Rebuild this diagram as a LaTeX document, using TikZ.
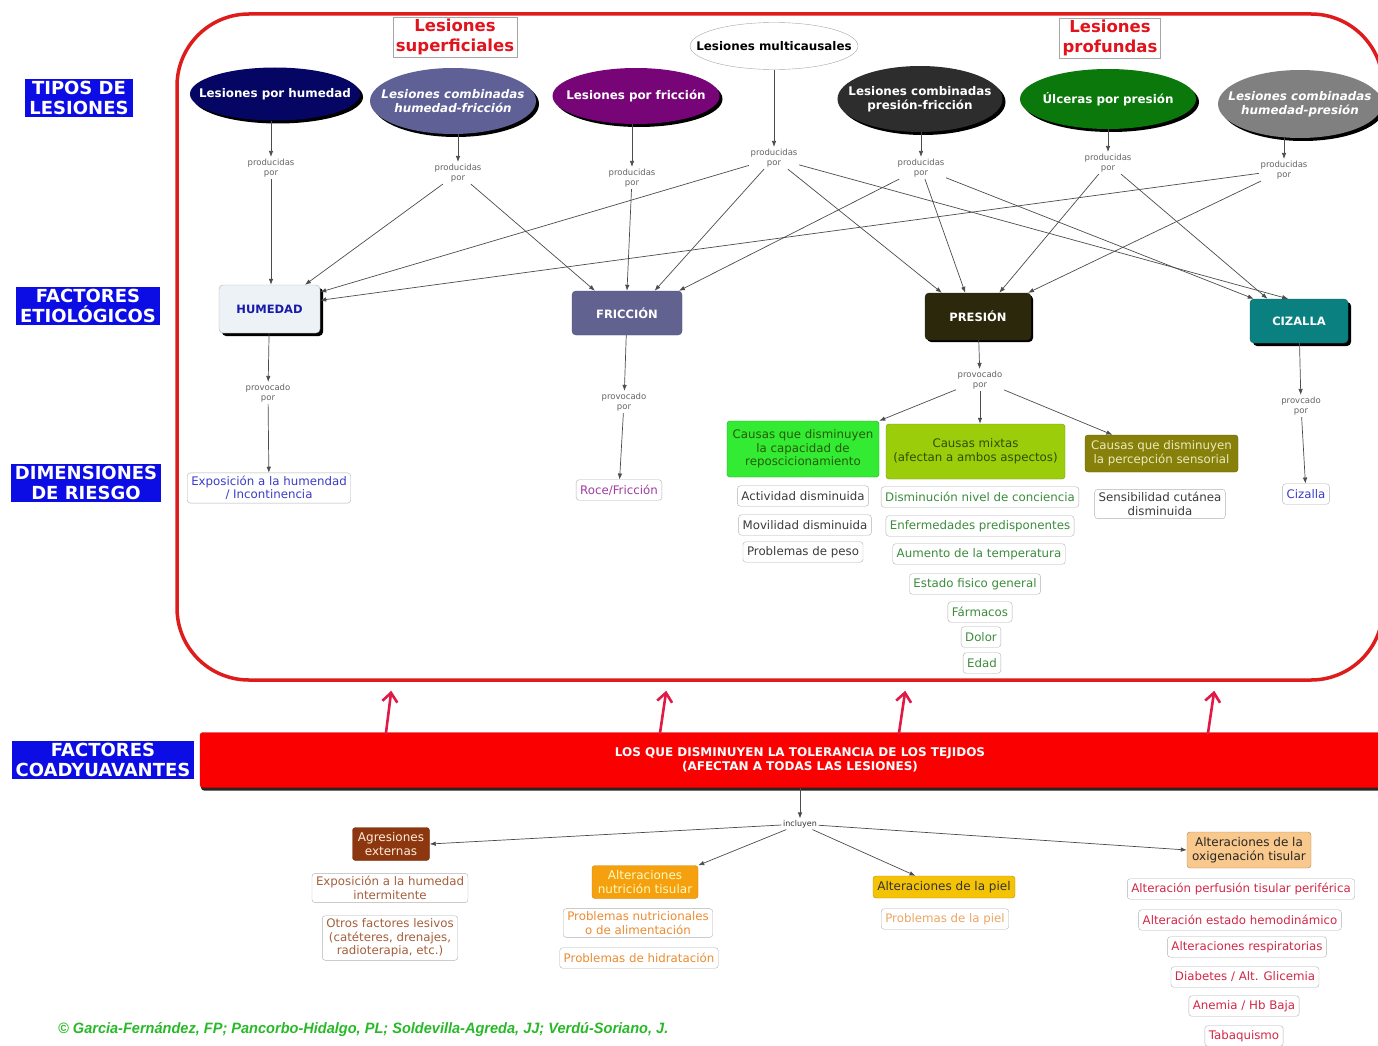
\documentclass[tikz,border=0pt]{standalone}
\usepackage{fontspec}
\usepackage{graphicx}
\setmainfont{DejaVu Sans}
\newfontfamily\footfont{Liberation Sans}
\usetikzlibrary{shapes.geometric,arrows.meta,shadows,calc}

\newcommand\fsz[2]{\fontsize{#1}{#2}\selectfont}

\definecolor{sideblue}{RGB}{12,12,228}
\definecolor{headred}{RGB}{225,20,30}
\definecolor{framered}{RGB}{222,28,28}
\definecolor{navyfill}{RGB}{5,5,100}
\definecolor{slatefill}{RGB}{95,96,150}
\definecolor{purpfill}{RGB}{120,5,120}
\definecolor{darkfill}{RGB}{45,45,45}
\definecolor{ulcgreen}{RGB}{10,120,10}
\definecolor{midgray}{RGB}{128,128,128}
\definecolor{humfill}{RGB}{236,242,246}
\definecolor{humtext}{RGB}{25,25,170}
\definecolor{fricfill}{RGB}{98,98,145}
\definecolor{presfill}{RGB}{43,40,12}
\definecolor{cizfill}{RGB}{10,128,128}
\definecolor{cafill}{RGB}{50,235,50}
\definecolor{catext}{RGB}{40,90,10}
\definecolor{cbfill}{RGB}{155,205,10}
\definecolor{cbtext}{RGB}{45,80,0}
\definecolor{ccfill}{RGB}{135,128,10}
\definecolor{cctext}{RGB}{235,235,190}
\definecolor{bluetext}{RGB}{60,60,200}
\definecolor{purptext}{RGB}{160,60,160}
\definecolor{greytext}{RGB}{60,60,60}
\definecolor{greentext}{RGB}{60,140,60}
\definecolor{barred}{RGB}{250,0,0}
\definecolor{arrred}{RGB}{225,25,70}
\definecolor{brownfill}{RGB}{140,55,15}
\definecolor{browntext}{RGB}{165,95,60}
\definecolor{orangefill}{RGB}{245,160,15}
\definecolor{orangetext}{RGB}{235,140,50}
\definecolor{goldfill}{RGB}{245,195,5}
\definecolor{peachfill}{RGB}{248,200,140}
\definecolor{pieltext}{RGB}{235,165,100}
\definecolor{oxtext}{RGB}{210,40,70}
\definecolor{footgreen}{RGB}{40,185,40}
\definecolor{labgray}{RGB}{100,100,100}

\begin{document}
\begin{tikzpicture}[x=1pt,y=-1pt,
  side/.style={fill=sideblue, text=white, font=\fsz{18}{19.5}\bfseries, align=center, inner xsep=4pt, inner ysep=2.5pt},
  headbox/.style={draw=gray!70, fill=white, text=headred, font=\fsz{16.5}{19.5}\bfseries, align=center, inner xsep=3pt, inner ysep=2pt},
  ellbase/.style={ellipse, inner sep=0pt, drop shadow={shadow xshift=3pt, shadow yshift=-3pt, opacity=1, fill=black}},
  elltext/.style={text=white, font=\fsz{11.9}{13.8}\bfseries, align=center, inner sep=0pt},
  factor/.style={rounded corners=4pt, font=\fsz{11.5}{13}\bfseries, text=white, inner sep=0pt},
  boxshadow/.style={drop shadow={shadow xshift=3pt, shadow yshift=-3pt, opacity=1, fill=black}},
  lab/.style={text=labgray, font=\fsz{8.5}{10.5}, align=center, inner sep=1.5pt},
  arr/.style={draw=black!70, line width=0.7pt, -{Latex[length=6pt,width=4.5pt]}},
  item/.style={draw=gray!60, fill=white, rounded corners=3pt, font=\fsz{11.8}{13.6}, align=center, inner xsep=4pt, inner ysep=3pt, minimum height=20.5pt},
  causa/.style={rounded corners=3pt, font=\fsz{11.8}{13.6}, align=center, inner sep=2pt},
  cobox/.style={rounded corners=3pt, font=\fsz{12}{14}, align=center, inner xsep=3pt, inner ysep=2pt},
  redarr/.style={draw=arrred, line width=2.6pt, -{Straight Barb[length=9pt,width=15pt,line width=2.6pt]}}
]
\useasboundingbox (0,0) rectangle (1378,1046);
\fill[white] (0,0) rectangle (1378,1046);
\clip (0,0) rectangle (1378,1046);

% ---- frame around the lesion types and their causes
\node[draw=framered, line width=3.5pt, rounded corners=72pt, minimum width=1206pt, minimum height=666pt, inner sep=0pt] (frame) at (780,347) {};

% ---- row titles
\node[side] (t1) at (79,98) {TIPOS DE\\LESIONES};
\node[side] (t2) at (88,306) {FACTORES\\ETIOLÓGICOS};
\node[side] (t3) at (86,483) {DIMENSIONES\\DE RIESGO};
\node[side] (t4) at (103,760) {FACTORES\\COADYUAVANTES};

% ---- group headers
\node[headbox] (hs) at (455,37) {Lesiones\\superficiales};
\node[headbox] (hp) at (1110,38) {Lesiones\\profundas};

% ---- lesion types
\node[ellbase, fill=navyfill, minimum width=170pt, minimum height=53pt] (e1) at (275,94) {};
\node[elltext] (e1t) at (e1) {Lesiones por humedad};
\node[ellbase, fill=slatefill, minimum width=166pt, minimum height=66pt] (e2) at (453,101) {};
\node[elltext, font=\fsz{11.9}{13.8}\bfseries\itshape] (e2t) at (e2) {Lesiones combinadas\\humedad-fricción};
\node[ellbase, fill=purpfill, minimum width=167pt, minimum height=56pt] (e3) at (636,96) {};
\node[elltext] (e3t) at (e3) {Lesiones por fricción};
\node[ellipse, draw=gray!70, fill=white, inner sep=0pt, minimum width=168pt, minimum height=47pt] (e4) at (774,46) {};
\node[elltext, text=black] (e4t) at (e4) {Lesiones multicausales};
\node[ellbase, fill=darkfill, minimum width=165pt, minimum height=66pt] (e5) at (920,99) {};
\node[elltext] (e5t) at (e5) {Lesiones combinadas\\presión-fricción};
\node[ellbase, fill=ulcgreen, minimum width=176pt, minimum height=60pt] (e6) at (1108,99) {};
\node[elltext] (e6t) at (e6) {Úlceras por presión};
\node[ellbase, fill=midgray, minimum width=164pt, minimum height=68pt] (e7) at (1300,104) {};
\node[elltext, font=\fsz{11.9}{13.8}\bfseries\itshape] (e7t) at (e7) {Lesiones combinadas\\humedad-presión};

% ---- linking phrases
\node[lab] (p1) at (271,168) {producidas\\por};
\node[lab] (p2) at (458,173) {producidas\\por};
\node[lab] (p3) at (632,178) {producidas\\por};
\node[lab] (p4) at (774,158) {producidas\\por};
\node[lab] (p5) at (921,168) {producidas\\por};
\node[lab] (p6) at (1108,163) {producidas\\por};
\node[lab] (p7) at (1284,170) {producidas\\por};

\foreach \i in {1,...,7}{
  \draw[arr] (e\i.south -| p\i.north) -- (p\i.north);
}

% ---- etiological factors
\node[factor, fill=humfill, draw=gray!60, text=humtext, minimum width=101pt, minimum height=48pt, boxshadow] (humedad) at (269.5,309) {HUMEDAD};
\node[factor, fill=fricfill, draw=fricfill!80!black, minimum width=110pt, minimum height=44pt] (friccion) at (627,313) {FRICCIÓN};
\node[factor, fill=presfill, draw=presfill, minimum width=106pt, minimum height=47pt, drop shadow={shadow xshift=2pt, shadow yshift=-2pt, opacity=1, fill=black}] (presion) at (978,316.5) {PRESIÓN};
\node[factor, fill=cizfill, draw=cizfill!80!black, minimum width=98pt, minimum height=44pt, boxshadow] (cizalla) at (1299,321) {CIZALLA};

\draw[arr] (p1) -- (humedad.north -| p1);
\draw[arr] (p2) -- ($(humedad.north west)!0.85!(humedad.north east)$);
\draw[arr] (p2) -- ($(friccion.north west)!0.21!(friccion.north east)$);
\draw[arr] (p3) -- ($(friccion.north west)!0.5!(friccion.north east)$);
\draw[arr] (p4) -- ($(humedad.north east)!0.15!(humedad.south east)$);
\draw[arr] (p4) -- ($(friccion.north west)!0.75!(friccion.north east)$);
\draw[arr] (p4) -- ($(presion.north west)!0.16!(presion.north east)$);
\draw[arr] (p4) -- ($(cizalla.north west)!0.39!(cizalla.north east)$);
\draw[arr] (p5) -- ($(friccion.north west)!0.97!(friccion.north east)$);
\draw[arr] (p5) -- ($(presion.north west)!0.38!(presion.north east)$);
\draw[arr] (p5) -- ($(cizalla.north west)!0.04!(cizalla.north east)$);
\draw[arr] (p6) -- ($(presion.north west)!0.70!(presion.north east)$);
\draw[arr] (p6) -- ($(cizalla.north west)!0.18!(cizalla.north east)$);
\draw[arr] (p7) -- ($(humedad.north east)!0.32!(humedad.south east)$);
\draw[arr] (p7) -- ($(presion.north west)!0.97!(presion.north east)$);

% ---- risk dimensions
\node[lab] (q1) at (268,393) {provocado\\por};
\node[lab] (q2) at (624,402) {provocado\\por};
\node[lab] (q3) at (980,380) {provocado\\por};
\node[lab] (q4) at (1301,406) {provcado\\por};

\node[item, text=bluetext] (expo) at (269,488) {Exposición a la humendad\\/ Incontinencia};
\node[item, text=purptext] (roce) at (619,490) {Roce/Fricción};
\node[item, text=bluetext] (ciz) at (1306,494) {Cizalla};

\node[causa, fill=cafill, draw=cafill!70!black, text=catext, minimum width=152pt, minimum height=56pt] (c1) at (803,449) {Causas que disminuyen\\la capacidad de\\reposcicionamiento};
\node[causa, fill=cbfill, draw=cbfill!75!black, text=cbtext, minimum width=179pt, minimum height=55pt] (c2) at (975.5,451.5) {Causas mixtas\\(afectan a ambos aspectos)};
\node[causa, fill=ccfill, draw=ccfill!75!black, text=cctext, minimum width=153pt, minimum height=37pt] (c3) at (1161.5,453.5) {Causas que disminuyen\\la percepción sensorial};

\draw[arr] (humedad) -- (q1);
\draw[arr] (q1) -- (expo);
\draw[arr] (friccion) -- (q2);
\draw[arr] (q2) -- (roce);
\draw[arr] (presion) -- (q3);
\draw[arr] (q3) -- (c1.north east);
\draw[arr] (q3) -- (c2.north -| q3);
\draw[arr] (q3) -- ($(c3.north west)!0.18!(c3.north east)$);
\draw[arr] (cizalla) -- (q4);
\draw[arr] (q4) -- (ciz);

\node[item, text=greytext] (a1) at (803,496) {Actividad disminuida};
\node[item, text=greytext] (a2) at (805,525) {Movilidad disminuida};
\node[item, text=greytext] (a3) at (803,552) {Problemas de peso};

\node[item, text=greentext] (m1) at (980,497) {Disminución nivel de conciencia};
\node[item, text=greentext] (m2) at (980,526) {Enfermedades predisponentes};
\node[item, text=greentext] (m3) at (979,554) {Aumento de la temperatura};
\node[item, text=greentext] (m4) at (975,584) {Estado fisico general};
\node[item, text=greentext] (m5) at (980,612) {Fármacos};
\node[item, text=greentext] (m6) at (981,637) {Dolor};
\node[item, text=greentext] (m7) at (982,663) {Edad};

\node[item, text=greytext] (s1) at (1160,504) {Sensibilidad cutánea\\disminuida};

% ---- contributing factors
\node[fill=barred, draw=barred!80!black, rounded corners=3pt, minimum width=1200pt, minimum height=55pt, text=white, font=\fsz{12}{14}\bfseries, align=center, drop shadow={shadow xshift=1pt, shadow yshift=-3pt, opacity=1, fill=black!85}] (bar) at (800,760) {LOS QUE DISMINUYEN LA TOLERANCIA DE LOS TEJIDOS\\(AFECTAN A TODAS LAS LESIONES)};

\draw[redarr] ($(bar.north west)+(186,2)$) -- ($(frame.south west)+(216,9)$);
\draw[redarr] ($(bar.north west)+(460,2)$) -- ($(frame.south west)+(491,9)$);
\draw[redarr] ($(bar.north west)+(699,2)$) -- ($(frame.south west)+(730,9)$);
\draw[redarr] ($(bar.north west)+(1008,2)$) -- ($(frame.south west)+(1039,9)$);

\node[font=\fsz{8}{10}, text=black!80, inner sep=1.5pt] (inc) at (800,824) {incluyen};
\draw[arr] (bar.south -| inc) -- (inc);

\node[cobox, fill=brownfill, draw=brownfill!80!black, text=orange!15, minimum width=77pt, minimum height=33pt] (agr) at (391,844) {Agresiones\\externas};
\node[cobox, fill=orangefill, draw=orangefill!85!black, text=yellow!25, minimum width=106pt, minimum height=33pt] (nut) at (645,882) {Alteraciones\\nutrición tisular};
\node[cobox, fill=goldfill, draw=goldfill!75!black, text=black!80, minimum width=142pt, minimum height=22pt] (piel) at (944,887) {Alteraciones de la piel};
\node[cobox, fill=peachfill, draw=peachfill!70!black, text=black!85, minimum width=124pt, minimum height=36pt] (oxi) at (1249,850) {Alteraciones de la\\oxigenación tisular};

\draw[arr] (inc) -- (agr.east);
\draw[arr] (inc) -- (nut.north east);
\draw[arr] (inc) -- ($(piel.north west)!0.3!(piel.north east)$);
\draw[arr] (inc) -- (oxi.west);

\node[item, text=browntext] (ag1) at (390,888) {Exposición a la humedad\\intermitente};
\node[item, text=browntext] (ag2) at (390,938) {Otros factores lesivos\\(catéteres, drenajes,\\radioterapia, etc.)};
\node[item, text=orangetext] (nu1) at (638,923) {Problemas nutricionales\\o de alimentación};
\node[item, text=orangetext] (nu2) at (639,958) {Problemas de hidratación};
\node[item, text=pieltext] (pi1) at (945,919) {Problemas de la piel};
\node[item, text=oxtext] (ox1) at (1241,889) {Alteración perfusión tisular periférica};
\node[item, text=oxtext] (ox2) at (1240,920) {Alteración estado hemodinámico};
\node[item, text=oxtext] (ox3) at (1247,947) {Alteraciones respiratorias};
\node[item, text=oxtext] (ox4) at (1245,977) {Diabetes / Alt. Glicemia};
\node[item, text=oxtext] (ox5) at (1244,1006) {Anemia / Hb Baja};
\node[item, text=oxtext] (ox6) at (1244,1036) {Tabaquismo};

% ---- authors
\node[anchor=west, text=footgreen, font=\footfont\fsz{15}{17}\bfseries\itshape, inner sep=0pt] (foot) at (58,1030) {\scalebox{0.97}[1]{© Garcia-Fernández, FP; Pancorbo-Hidalgo, PL; Soldevilla-Agreda, JJ; Verdú-Soriano, J.}};
\end{tikzpicture}
\end{document}
